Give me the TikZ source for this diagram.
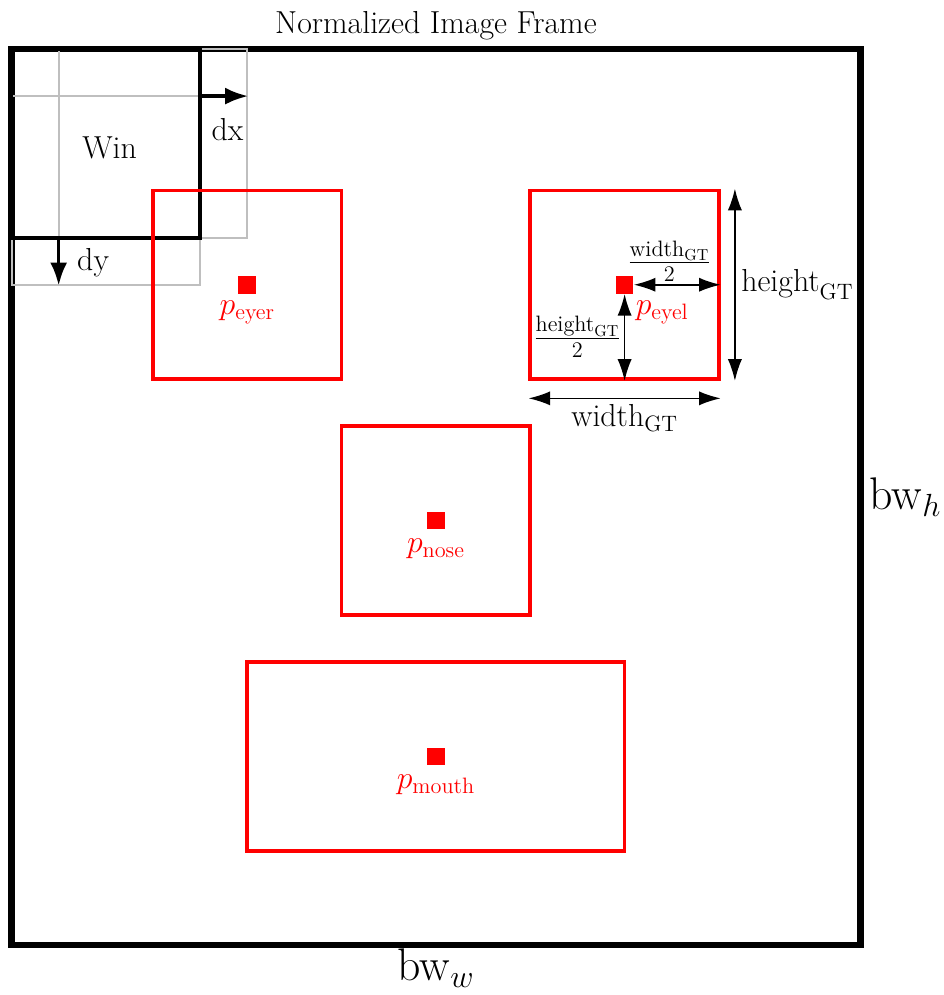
\RequirePackage{fix-cm}
\documentclass[tikz,border=0pt]{standalone}
\usepackage{amsmath,amssymb}
\usepackage{tikz}
\usetikzlibrary{arrows.meta,positioning}

\begin{document}
\begin{tikzpicture}[
  every node/.style={font=\fontsize{19.2}{23}\selectfont},
  biglabel/.style={font=\fontsize{27.6}{33}\selectfont, inner sep=2pt},
  imgframe/.style={
    rectangle,
    draw=black,
    line width=4pt,
    inner sep=0pt,
    minimum width=18cm,
    minimum height=19cm
  },
  winbox/.style={rectangle, draw=black, line width=2.4pt, inner sep=0pt, minimum size=4cm},
  shiftbox/.style={rectangle, draw=black!25, line width=1.2pt, inner sep=0pt, minimum size=4cm},
  gtbox/.style={rectangle, draw=red, line width=2.2pt, inner sep=0pt, minimum height=4cm},
  keypt/.style={rectangle, fill=red, inner sep=0pt, minimum size=0.375cm},
  ptlabel/.style={text=red, inner sep=1pt},
  shiftarrow/.style={-{Latex[length=4.9mm,width=3.6mm]}, line width=2.2pt},
  dimarrow/.style={{Latex[length=4.6mm,width=3mm]}-{Latex[length=4.6mm,width=3mm]}, line width=1pt}
]
\useasboundingbox (-0.244,-1.06) rectangle (19.752,20.038);

\node[imgframe] (frame) at (9,9.5) {};
\node[above=0pt of frame.north] (title) {Normalized Image Frame};
\node[biglabel, right=0.05cm of frame.east] (bwh) {$\text{bw}_h$};
\node[biglabel, below=-0.07cm of frame.south] (bww) {$\text{bw}_w$};

\node[shiftbox] (winx) at (3,17) {};
\node[shiftbox] (winy) at (2,16) {};
\node[winbox] (win) at (2,17) {};
\node (winlabel) at (2.08,16.9) {Win};

\coordinate (dxa) at ([yshift=1cm]win.east);
\coordinate (dxb) at (winx.east |- dxa);
\draw[shiftarrow] (dxa) -- (dxb);
\node (dxlabel) at (4.58,17.29) {dx};

\coordinate (dya) at ([xshift=-1cm]win.south);
\coordinate (dyb) at (dya |- winy.south);
\draw[shiftarrow] (dya) -- (dyb);
\node (dylabel) at (1.73,14.47) {dy};

\node[gtbox, minimum width=4cm] (eyerbox) at (5,14) {};
\node[gtbox, minimum width=4cm] (eyelbox) at (13,14) {};
\node[gtbox, minimum width=4cm] (nosebox) at (9,9) {};
\node[gtbox, minimum width=8cm] (mouthbox) at (9,4) {};

\node[keypt] (peyer) at (eyerbox.center) {};
\node[keypt] (peyel) at (eyelbox.center) {};
\node[keypt] (pnose) at (nosebox.center) {};
\node[keypt] (pmouth) at (mouthbox.center) {};

\node[ptlabel, below=0.1cm of peyer] (leyer) {$p_{\text{eyer}}$};
\node[ptlabel, below right=0.1cm and 0pt of peyel] (leyel) {$p_{\text{eyel}}$};
\node[ptlabel, below=0.15cm of pnose] (lnose) {$p_{\text{nose}}$};
\node[ptlabel, below=0.15cm of pmouth] (lmouth) {$p_{\text{mouth}}$};

\draw[dimarrow] (peyel.east) -- (eyelbox.east);
\draw[dimarrow] (peyel.south) -- (eyelbox.south);
\node (halfw) at (13.95,14.5) {$\frac{\text{width}_{\text{GT}}}{2}$};
\node (halfh) at (12.0,12.9) {$\frac{\text{height}_{\text{GT}}}{2}$};

\coordinate (wgl) at ([yshift=-0.37cm]eyelbox.south west);
\coordinate (wgr) at ([yshift=-0.37cm]eyelbox.south east);
\draw[dimarrow] (wgl) -- (wgr) node[midway, below] (wglabel) {$\text{width}_{\text{GT}}$};
\coordinate (hgt) at ([xshift=0.3cm]eyelbox.north east);
\coordinate (hgb) at ([xshift=0.3cm]eyelbox.south east);
\draw[dimarrow] (hgt) -- (hgb) node[midway, right] (hglabel) {$\text{height}_{\text{GT}}$};
\end{tikzpicture}
\end{document}
